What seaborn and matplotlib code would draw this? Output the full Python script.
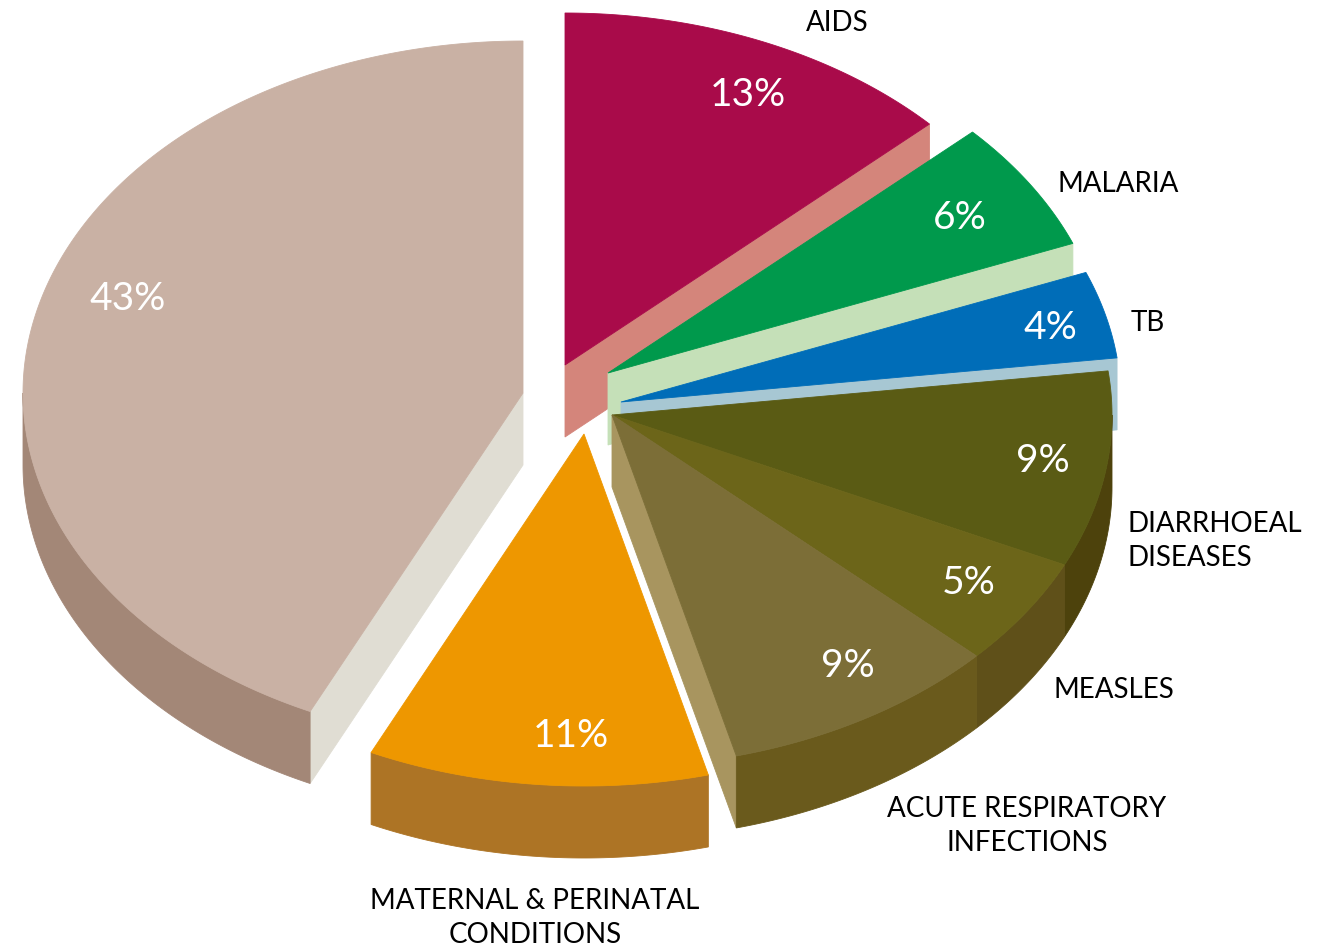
import numpy as np
import matplotlib
matplotlib.use("Agg")
import matplotlib.pyplot as plt
from matplotlib.patches import Polygon
import seaborn as sns

# ---------------- data ----------------
categories = ["AIDS", "MALARIA", "TB", "DIARRHOEAL\nDISEASES", "MEASLES",
              "ACUTE RESPIRATORY\nINFECTIONS", "MATERNAL & PERINATAL\nCONDITIONS", ""]
shares = [13, 6, 4, 9, 5, 9, 11, 43]

top_colors = ["#A90B4A", "#00994C", "#006DB8", "#5A5B14", "#6C6519",
              "#7C6E37", "#EE9700", "#C9B1A4"]
outer_colors = ["#8A0A3C", "#007A3C", "#005A96", "#4D420C", "#5F5019",
                "#6A5A1C", "#AD7425", "#A38777"]
side_colors = ["#D4857B", "#C5E0B8", "#A7C7D3", "#4D420C", "#5F5019",
               "#A8955F", "#AD7425", "#E0DDD3"]

# ---------------- layout ----------------
CX, CY = 612, 415
RX, RY = 500, 352
DEPTH = 72
offsets = [(-47, -50), (-4, -42), (9, -13), (0, 0), (0, 0), (0, 0), (-28, 19), (-89, -22)]
pct_pos = [(748, 95), (960, 218), (1050, 328), (1043, 461), (969, 583),
           (848, 666), (571, 736), (128, 299)]
cat_pos = [(806, 23, "left"), (1058, 184, "left"), (1131, 323, "left"),
           (1128, 541, "left"), (1054, 690, "left"), (1027, 826, "center"),
           (535, 918, "center"), (0, 0, "left")]
cat_align = ["center", "center", "center", "left", "center", "center", "center", "center"]

sns.set_theme(style="white")
plt.rcParams["font.family"] = ["Lato", "DejaVu Sans"]

fig = plt.figure(figsize=(13.4, 9.48), dpi=100)
ax = fig.add_axes([0, 0, 1, 1])
ax.set_xlim(0, 1340)
ax.set_ylim(948, 0)
ax.axis("off")

total = float(sum(shares))
bounds = 90 - 360 * np.concatenate([[0], np.cumsum(shares)]) / total


def rim(cx, cy, a, dz=0):
    r = np.radians(a)
    return (cx + RX * np.cos(r), cy - RY * np.sin(r) + dz)


def arc(cx, cy, a_from, a_to, dz=0, n=None):
    if n is None:
        n = max(4, int(abs(a_to - a_from) * 2))
    return [rim(cx, cy, a, dz) for a in np.linspace(a_from, a_to, n)]


def add(poly, color, z):
    ax.add_patch(Polygon(poly, closed=True, facecolor=color, edgecolor=color,
                         linewidth=0.6, zorder=z))


order = [0, 1, 2, 7, 3, 4, 5, 6]
z = 1
n = len(shares)
for i in order:
    a1, a2 = bounds[i], bounds[i + 1]          # a1 > a2 (clockwise)
    cx, cy = CX + offsets[i][0], CY + offsets[i][1]
    apex = (cx, cy)
    apex_d = (cx, cy + DEPTH)
    nxt = (i + 1) % n
    prv = (i - 1) % n
    # radial wall at clockwise end
    if np.cos(np.radians(a2)) > 1e-6 and offsets[nxt] != offsets[i]:
        p = rim(cx, cy, a2)
        add([apex, p, (p[0], p[1] + DEPTH), apex_d], side_colors[i], z); z += 1
    # radial wall at counter-clockwise end
    if np.cos(np.radians(a1)) < -1e-6 and offsets[prv] != offsets[i]:
        p = rim(cx, cy, a1)
        add([apex, p, (p[0], p[1] + DEPTH), apex_d], side_colors[i], z); z += 1
    # outer wall on the front half
    lo, hi = max(a2, -180), min(a1, 0)
    if hi > lo:
        top = arc(cx, cy, lo, hi)
        bot = arc(cx, cy, hi, lo, DEPTH)
        add(top + bot, outer_colors[i], z); z += 1
    # top face
    add([apex] + arc(cx, cy, a1, a2), top_colors[i], z); z += 1

for i in range(n):
    x, y = pct_pos[i]
    ax.text(x, y, f"{shares[i]}%", color="white", fontsize=28,
            ha="center", va="center", zorder=100)
    if categories[i]:
        cx_, cy_, ha = cat_pos[i]
        ax.text(cx_, cy_, categories[i], color="black", fontsize=20,
                ha=ha, va="center", multialignment=cat_align[i],
                linespacing=1.36, zorder=100)

fig.savefig("out.png", dpi=100, facecolor="white")
